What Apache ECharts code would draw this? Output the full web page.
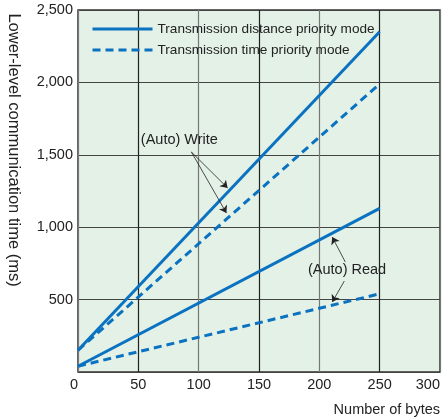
<!DOCTYPE html>
<html>
<head>
<meta charset="utf-8">
<script src="https://cdn.jsdelivr.net/npm/echarts@6/dist/echarts.min.js"></script>
<style>
  html, body { margin: 0; padding: 0; background: #fff; }
  #main { width: 443px; height: 419px; }
</style>
</head>
<body>
<div id="main"></div>
<script>
// values (x = number of bytes, y = ms)
const bytes = [0, 250];
const writeDistance = [150, 2350];
const writeTime = [150, 1990];
const readDistance = [40, 1130];
const readTime = [40, 540];
const xTicks = [0, 50, 100, 150, 200, 250, 300];
const yTicks = [0, 500, 1000, 1500, 2000, 2500];

const nameDistance = 'Transmission distance priority mode';
const nameTime = 'Transmission time priority mode';
const blue = '#0a72c0';
const font = 'Liberation Sans, Arial, sans-serif';

const pairs = vals => bytes.map((b, i) => [b, vals[i]]);

// annotation arrows, in data coordinates
const arrows = [
  [[94, 1519], [124, 1271]],
  [[94, 1519], [123, 1098]],
  [[221.5, 760], [210.7, 932]],
  [[220.7, 628], [210.7, 483]]
];
const notes = [
  { text: '(Auto) Write', at: [84, 1602] },
  { text: '(Auto) Read', at: [223, 704] }
];

const chartDom = document.getElementById('main');
const myChart = echarts.init(chartDom, null, { renderer: 'canvas' });

const lineSeries = (name, vals, dashed) => ({
  name: name,
  type: 'line',
  data: pairs(vals),
  symbol: 'none',
  silent: true,
  lineStyle: { color: blue, width: 3, type: dashed ? [8, 5] : 'solid' },
  itemStyle: { color: blue }
});

const option = {
  animation: false,
  backgroundColor: '#fff',
  textStyle: { fontFamily: font },
  grid: {
    left: 78, right: 2, top: 10, bottom: 47,
    show: true,
    backgroundColor: '#e3f1e7',
    borderColor: '#333',
    borderWidth: 1.5
  },
  legend: {
    data: [nameDistance, nameTime],
    orient: 'vertical',
    left: 86,
    top: 17,
    itemWidth: 60,
    itemHeight: 12,
    itemGap: 7,
    itemStyle: { color: 'transparent', borderWidth: 0, opacity: 0 },
    lineStyle: { width: 3 },
    textStyle: { fontSize: 13.6, color: '#222', fontFamily: font }
  },
  xAxis: {
    type: 'value',
    min: xTicks[0],
    max: xTicks[xTicks.length - 1],
    interval: 50,
    name: 'Number of bytes',
    nameLocation: 'end',
    nameGap: 0,
    nameTextStyle: {
      fontSize: 14.5, color: '#222', align: 'right', verticalAlign: 'top',
      padding: [30, 0, 0, 0], fontFamily: font
    },
    axisLine: { show: false },
    axisTick: { show: false },
    axisLabel: {
      fontSize: 14.5, color: '#222', margin: 5, fontFamily: font,
      alignMinLabel: 'right', alignMaxLabel: 'right'
    },
    splitLine: { lineStyle: { color: ['#777', '#222'], width: 1.2 } }
  },
  yAxis: {
    type: 'value',
    min: yTicks[0],
    max: yTicks[yTicks.length - 1],
    interval: 500,
    axisLine: { show: false },
    axisTick: { show: false },
    axisLabel: {
      fontSize: 14.5, color: '#222', margin: 5, fontFamily: font,
      formatter: v => v === 0 ? '' : v.toLocaleString('en-US')
    },
    splitLine: { lineStyle: { color: '#444', width: 1.2 } }
  },
  graphic: [{
    type: 'text',
    x: 14,
    y: 150,
    rotation: -Math.PI / 2,
    style: {
      text: 'Lower-level communication time (ms)',
      font: '16.5px ' + font,
      fill: '#222',
      textAlign: 'center',
      textVerticalAlign: 'middle'
    }
  }],
  series: [
    lineSeries(nameDistance, writeDistance, false),
    lineSeries(nameTime, writeTime, true),
    lineSeries(nameDistance, readDistance, false),
    lineSeries(nameTime, readTime, true),
    {
      name: 'notes',
      type: 'line',
      data: [],
      silent: true,
      markLine: {
        silent: true,
        symbol: ['none', 'arrow'],
        symbolSize: 7,
        label: { show: false },
        lineStyle: { color: '#222', width: 0.8, type: 'solid' },
        data: arrows.map(a => [{ coord: a[0] }, { coord: a[1] }])
      },
      markPoint: {
        silent: true,
        symbol: 'circle',
        symbolSize: 1,
        itemStyle: { color: 'transparent' },
        label: {
          show: true, position: 'inside', fontSize: 14.5, color: '#222', fontFamily: font,
          formatter: p => p.name
        },
        data: notes.map(n => ({ name: n.text, coord: n.at }))
      }
    }
  ]
};

option && myChart.setOption(option);
</script>
</body>
</html>
